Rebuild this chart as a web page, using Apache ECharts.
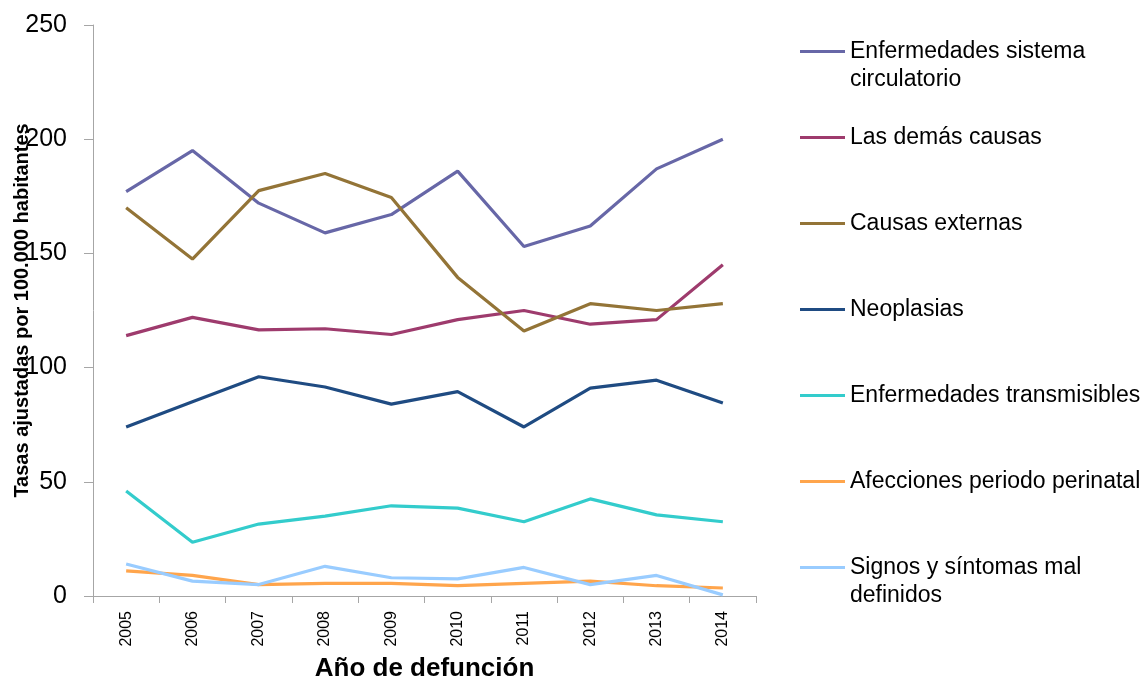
<!DOCTYPE html>
<html>
<head>
<meta charset="utf-8">
<script src="https://cdn.jsdelivr.net/npm/echarts@6/dist/echarts.min.js"></script>
<style>html,body{margin:0;padding:0;background:#fff}#c{width:1141px;height:679px}</style>
</head>
<body>
<div id="c"></div>
<script>
const years = ['2005','2006','2007','2008','2009','2010','2011','2012','2013','2014'];
const seriesNames = [
  'Enfermedades sistema\ncirculatorio',
  'Las demás causas',
  'Causas externas',
  'Neoplasias',
  'Enfermedades transmisibles',
  'Afecciones periodo perinatal',
  'Signos y síntomas mal\ndefinidos'
];
const circulatorio = [177, 195, 172, 159, 167, 186, 153, 162, 187, 200];
const demasCausas = [114, 122, 116.5, 117, 114.5, 121, 125, 119, 121, 145];
const externas = [170, 147.5, 177.5, 185, 174.5, 139.5, 116, 128, 125, 128];
const neoplasias = [74, 85, 96, 91.5, 84, 89.5, 74, 91, 94.5, 84.5];
const transmisibles = [46, 23.5, 31.5, 35, 39.5, 38.5, 32.5, 42.5, 35.5, 32.5];
const perinatal = [11, 9, 5, 5.5, 5.5, 4.5, 5.5, 6.5, 4.5, 3.5];
const signos = [14, 6.5, 5, 13, 8, 7.5, 12.5, 5, 9, 0.5];
const yTicks = [0, 50, 100, 150, 200, 250];

const values = [circulatorio, demasCausas, externas, neoplasias, transmisibles, perinatal, signos];
const colors = ['#6767A7', '#9E3B6D', '#937437', '#1F4B82', '#33CCCC', '#FFA54C', '#99CCFF'];

const chart = echarts.init(document.getElementById('c'), null, {renderer: 'canvas'});
const series = seriesNames.map((n, i) => ({
  name: n,
  type: 'line',
  data: values[i],
  symbol: 'none',
  smooth: false,
  lineStyle: {width: 3.2, color: colors[i]},
  itemStyle: {color: colors[i]},
  emphasis: {disabled: true},
  animation: false
}));

chart.setOption({
  animation: false,
  backgroundColor: '#fff',
  grid: {left: 93, right: 385, top: 25, bottom: 83, containLabel: false, outerBoundsMode: 'none'},
  legend: {
    orient: 'vertical',
    left: 800,
    top: 9.5,
    padding: 0,
    itemWidth: 45,
    itemHeight: 3,
    itemGap: 2,
    icon: 'rect',
    selectedMode: false,
    formatter: n => (n.indexOf('\n') >= 0 ? '\n' + n : n),
    textStyle: {fontFamily: 'Liberation Sans, Arial', fontSize: 23, color: '#000', lineHeight: 28},
    data: seriesNames.map(n => ({
      name: n,
      textStyle: {padding: n.indexOf('\n') >= 0 ? [0, 0, 0, 0] : [28, 0, 28, 0]}
    }))
  },
  xAxis: {
    type: 'category',
    data: years,
    boundaryGap: true,
    name: 'Año de defunción',
    nameLocation: 'middle',
    nameGap: 60,
    nameTextStyle: {fontFamily: 'Liberation Sans Narrow, Liberation Sans, Arial', fontWeight: 'bold', fontSize: 26, color: '#000'},
    axisLine: {lineStyle: {color: '#A6A6A6', width: 1}},
    axisTick: {show: true, alignWithLabel: false, length: 7, lineStyle: {color: '#A6A6A6'}},
    axisLabel: {rotate: 90, fontFamily: 'Liberation Sans, Arial', fontSize: 16, color: '#000', margin: 15},
    splitLine: {show: false}
  },
  yAxis: {
    type: 'value',
    min: 0,
    max: 250,
    interval: 50,
    name: 'Tasas ajustadas por 100.000 habitantes',
    nameLocation: 'middle',
    nameGap: 61,
    nameMoveOverlap: false,
    nameTextStyle: {fontFamily: 'Liberation Sans Narrow, Liberation Sans, Arial', fontWeight: 'bold', fontSize: 20, color: '#000'},
    axisLine: {show: true, lineStyle: {color: '#A6A6A6', width: 1}},
    axisTick: {show: true, length: 9, lineStyle: {color: '#A6A6A6'}},
    axisLabel: {fontFamily: 'Liberation Sans, Arial', fontSize: 25, color: '#000', margin: 26,
      formatter: v => (yTicks.indexOf(v) >= 0 ? String(v) : '')},
    splitLine: {show: false}
  },
  series: series
});
</script>
</body>
</html>
